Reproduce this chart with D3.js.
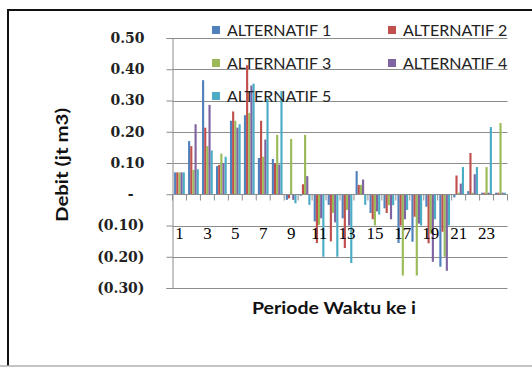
<!DOCTYPE html>
<html>
<head>
<meta charset="utf-8">
<script src="https://cdn.jsdelivr.net/npm/d3@7"></script>
<style>
    body { margin: 0; background: #fff; }
    #chart { width: 532px; height: 372px; }
    .ylab text { font-family: "DejaVu Serif"; font-weight: bold; font-size: 14px; fill: #222; }
    .xlab { font-family: "Liberation Serif"; font-size: 17px; fill: #000; }
    .legend text { font-family: "Lato"; font-size: 16px; fill: #222; }
    .axisLabel { font-family: "Lato"; font-weight: bold; font-size: 17px; fill: #111; }
</style>
</head>
<body>
<div id="chart"></div>
<script>
// periods on the x axis
const periods = ["1","2","3","4","5","6","7","8","9","10","11","12","13","14","15","16","17","18","19","20","21","22","23","24"];
const seriesNames = ["ALTERNATIF 1","ALTERNATIF 2","ALTERNATIF 3","ALTERNATIF 4","ALTERNATIF 5"];
const seriesColors = ["#4F81BD","#C0504D","#9BBB59","#8064A2","#4BACC6"];

// debit values (jt m3)
const alt1 = [0.07, 0.17, 0.365, 0.09, 0.235, 0.253, 0.116, 0.113, -0.018, -0.005, -0.087, -0.034, -0.077, 0.074, -0.06, -0.045, -0.156, -0.152, -0.04, -0.232, -0.01, 0.01, 0.005, 0.005];
const alt2 = [0.07, 0.154, 0.213, 0.094, 0.265, 0.413, 0.235, 0.10, -0.013, 0.032, -0.156, -0.151, -0.172, 0.03, -0.08, -0.06, -0.10, -0.072, -0.157, -0.12, 0.06, 0.132, 0.005, 0.005];
const alt3 = [0.07, 0.078, 0.154, 0.13, 0.235, 0.26, 0.12, 0.19, 0.177, 0.19, -0.098, -0.06, -0.05, 0.03, -0.10, -0.035, -0.26, -0.26, -0.126, -0.20, 0.005, 0.005, 0.087, 0.228];
const alt4 = [0.07, 0.224, 0.286, 0.10, 0.213, 0.348, 0.175, 0.095, -0.018, 0.058, -0.077, -0.09, -0.10, 0.047, -0.055, -0.08, -0.08, -0.094, -0.216, -0.245, 0.034, 0.064, 0.005, 0.005];
const alt5 = [0.07, 0.08, 0.14, 0.12, 0.224, 0.354, 0.305, 0.33, -0.029, -0.034, -0.20, -0.20, -0.22, -0.034, -0.065, -0.035, -0.05, -0.10, -0.08, -0.10, 0.087, 0.087, 0.215, 0.005];

const yTicks = [0.5, 0.4, 0.3, 0.2, 0.1, 0, -0.1, -0.2, -0.3];
const xTickLabels = ["1","3","5","7","9","11","13","15","17","19","21","23"];

const allSeries = [alt1, alt2, alt3, alt4, alt5];

// flat table for the bars
let rows = [];
periods.forEach(function(p, i) {
    seriesNames.forEach(function(s, j) {
        rows.push({period: p, series: s, value: allSeries[j][i]});
    });
});

const width = 532;
const height = 372;

const svg = d3.select("#chart")
    .append("svg")
    .attr("width", width)
    .attr("height", height);

// frame of the pasted chart
svg.append("line").attr("x1", 7).attr("x2", 532).attr("y1", 10).attr("y2", 10)
    .style("stroke", "#111").style("stroke-width", 2);
svg.append("line").attr("x1", 8).attr("x2", 8).attr("y1", 9).attr("y2", 366)
    .style("stroke", "#111").style("stroke-width", 2);
svg.append("line").attr("x1", 0).attr("x2", 532).attr("y1", 366).attr("y2", 366)
    .style("stroke", "#b0b0b0").style("stroke-width", 1.5);

const margin = {top: 38, left: 172.5, right: 24.5, bottom: 84};

const x0 = d3.scaleBand()
    .domain(periods)
    .range([margin.left, width - margin.right]);

const bw = x0.bandwidth();
const x1 = d3.scaleBand()
    .domain(seriesNames)
    .range([bw * 0.75 / 6.5, bw - bw * 0.75 / 6.5]);

const yScale = d3.scaleLinear()
    .domain([-0.3, 0.5])
    .range([height - margin.bottom, margin.top]);

const color = d3.scaleOrdinal().domain(seriesNames).range(seriesColors);

// gridlines
svg.append("g")
    .selectAll("line")
    .data(yTicks)
    .enter()
    .append("line")
        .attr("x1", margin.left)
        .attr("x2", width - margin.right)
        .attr("y1", d => Math.round(yScale(d)) + 0.5)
        .attr("y2", d => Math.round(yScale(d)) + 0.5)
        .style("stroke", "#8c8c8c")
        .style("stroke-width", 1);

// bars
svg.append("g")
    .selectAll("rect")
    .data(rows)
    .enter()
    .append("rect")
        .attr("x", d => x0(d.period) + x1(d.series))
        .attr("width", x1.bandwidth())
        .attr("y", d => yScale(Math.max(0, d.value)))
        .attr("height", d => Math.abs(yScale(d.value) - yScale(0)))
        .style("fill", d => color(d.series));

// y axis
const fmt = function(d) {
    if (d === 0) return "-";
    const s = d3.format(".2f")(Math.abs(d));
    return d < 0 ? "(" + s + ")" : s;
};

const yAxis = svg.append("g")
    .attr("class", "ylab")
    .attr("transform", `translate(${margin.left},0)`)
    .call(d3.axisLeft(yScale).tickValues(yTicks).tickFormat(fmt).tickSize(6).tickPadding(22));
yAxis.selectAll("path, line").style("stroke", "#8c8c8c");
yAxis.selectAll("text").filter(d => d === 0).attr("dx", -11);

// x axis at zero with ticks between periods
const xAxis = svg.append("g")
    .attr("transform", `translate(0,${Math.round(yScale(0)) + 0.5})`);
xAxis.append("line")
    .attr("x1", margin.left).attr("x2", width - margin.right)
    .style("stroke", "#8c8c8c");
xAxis.selectAll(".tk")
    .data(periods.concat(["end"]))
    .enter()
    .append("line")
        .attr("class", "tk")
        .attr("x1", d => d === "end" ? width - margin.right : x0(d))
        .attr("x2", d => d === "end" ? width - margin.right : x0(d))
        .attr("y1", 0).attr("y2", 6)
        .style("stroke", "#8c8c8c");

svg.append("g")
    .selectAll("text")
    .data(xTickLabels)
    .enter()
    .append("text")
        .attr("class", "xlab")
        .attr("x", d => x0(d) + bw / 2)
        .attr("y", 239)
        .attr("text-anchor", "middle")
        .text(d => d);

// legend, 2 columns on top of the plot
const legend = svg.append("g").attr("class", "legend")
    .selectAll("g")
    .data(seriesNames)
    .enter()
    .append("g")
        .attr("transform", (d, i) => `translate(${i % 2 === 0 ? 212 : 388},${[30, 30, 63, 63, 96][i]})`);

legend.append("rect")
    .attr("x", 0).attr("y", -4)
    .attr("width", 8).attr("height", 8)
    .style("fill", d => color(d));

legend.append("text")
    .attr("x", 15)
    .attr("y", 5.5)
    .text(d => d);

// axis titles (the original is a bit stretched, so fix the length)
svg.append("text")
    .attr("class", "axisLabel")
    .attr("x", 334)
    .attr("y", 314)
    .attr("text-anchor", "middle")
    .attr("textLength", 164)
    .attr("lengthAdjust", "spacingAndGlyphs")
    .text("Periode Waktu ke i");

svg.append("text")
    .attr("class", "axisLabel")
    .attr("transform", "rotate(-90)")
    .attr("x", -165)
    .attr("y", 68)
    .attr("text-anchor", "middle")
    .attr("textLength", 114)
    .attr("lengthAdjust", "spacingAndGlyphs")
    .text("Debit (jt m3)");
</script>
</body>
</html>
